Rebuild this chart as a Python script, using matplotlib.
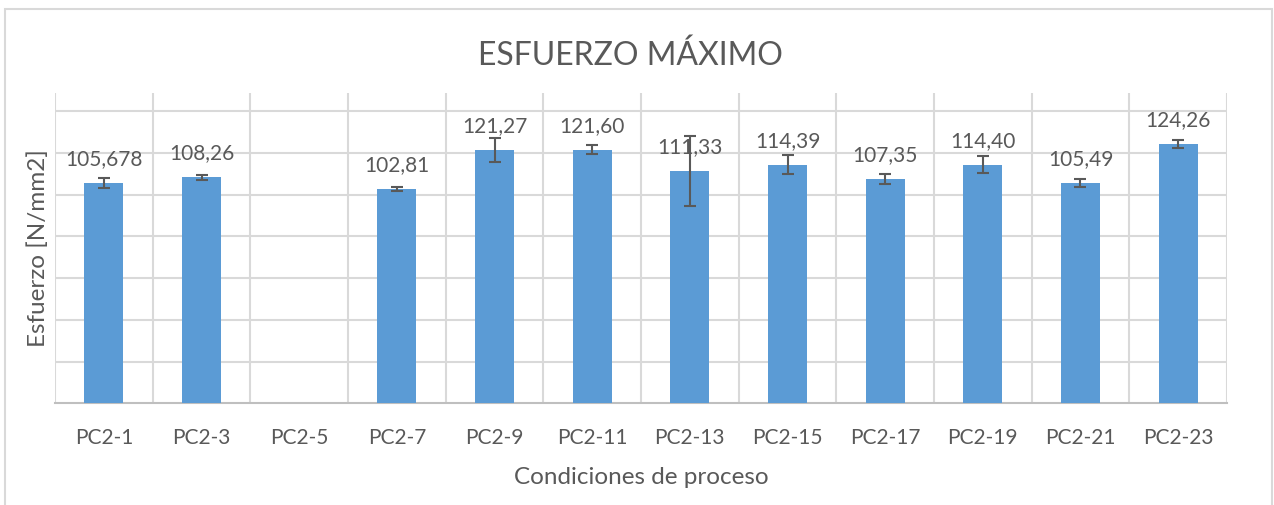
import numpy as np
import matplotlib.pyplot as plt
from matplotlib.patches import Rectangle

# datos
condiciones = ['PC2-1', 'PC2-3', 'PC2-5', 'PC2-7', 'PC2-9', 'PC2-11', 'PC2-13',
               'PC2-15', 'PC2-17', 'PC2-19', 'PC2-21', 'PC2-23']
esfuerzo = [105.678, 108.26, np.nan, 102.81, 121.27, 121.60, 111.33,
            114.39, 107.35, 114.40, 105.49, 124.26]
error = [2.4, 1.2, np.nan, 0.9, 5.8, 2.2, 16.6, 4.4, 2.4, 4.1, 1.9, 2.0]
etiquetas = ['105,678', '108,26', '', '102,81', '121,27', '121,60', '111,33',
             '114,39', '107,35', '114,40', '105,49', '124,26']

gris = '#595959'
azul = '#5B9BD5'
plt.rcParams['font.family'] = ['Lato', 'DejaVu Sans']

fig = plt.figure(figsize=(12.74, 5.05), dpi=100)
ax = fig.add_axes([0.0432, 0.2014, 0.9199, 0.6144])

x = np.arange(len(condiciones))
ax.bar(x, esfuerzo, width=0.4, color=azul, zorder=3)
ax.errorbar(x, esfuerzo, yerr=error, fmt='none', ecolor=gris, elinewidth=1.5,
            capsize=4.5, capthick=1.5, zorder=4)

for xi, v, t in zip(x, esfuerzo, etiquetas):
    if t:
        ax.annotate(t, (xi, v), xytext=(0, 10), textcoords='offset points',
                    ha='center', va='bottom', fontsize=15, color=gris, zorder=5)

ax.set_xlim(-0.5, len(condiciones) - 0.5)
ax.set_ylim(0, 148.7)
ax.set_yticks(np.arange(0, 141, 20))
ax.set_xticks(x)
ax.set_xticklabels(condiciones, fontsize=15, color=gris)
ax.set_yticklabels([])
ax.tick_params(length=0, pad=18)

# cuadrícula
for yv in np.arange(20, 141, 20):
    ax.axhline(yv, color='#d9d9d9', lw=1.5, zorder=1)
for xv in np.arange(-0.5, len(condiciones), 1):
    ax.axvline(xv, color='#d9d9d9', lw=1.5, zorder=1)

for s in ['top', 'right', 'left']:
    ax.spines[s].set_visible(False)
ax.spines['bottom'].set_color('#bfbfbf')
ax.spines['bottom'].set_linewidth(1.5)

ax.set_xlabel('Condiciones de proceso', fontsize=17.5, color=gris)
ax.xaxis.set_label_coords(0.5, -0.206)
ax.set_ylabel('Esfuerzo [N/mm2]', fontsize=17.5, color=gris)
ax.yaxis.set_label_coords(-0.0052, 0.5)
fig.text(0.4945, 0.889, 'ESFUERZO MÁXIMO', ha='center', va='center',
         fontsize=23, color=gris)

# borde del gráfico
fig.patches.append(Rectangle((5 / 1274, -0.01), 1267 / 1274, (505 - 9) / 505 + 0.01,
                             transform=fig.transFigure, fill=False,
                             edgecolor='#d9d9d9', lw=1.5))

fig.savefig('out.png', dpi=100)
